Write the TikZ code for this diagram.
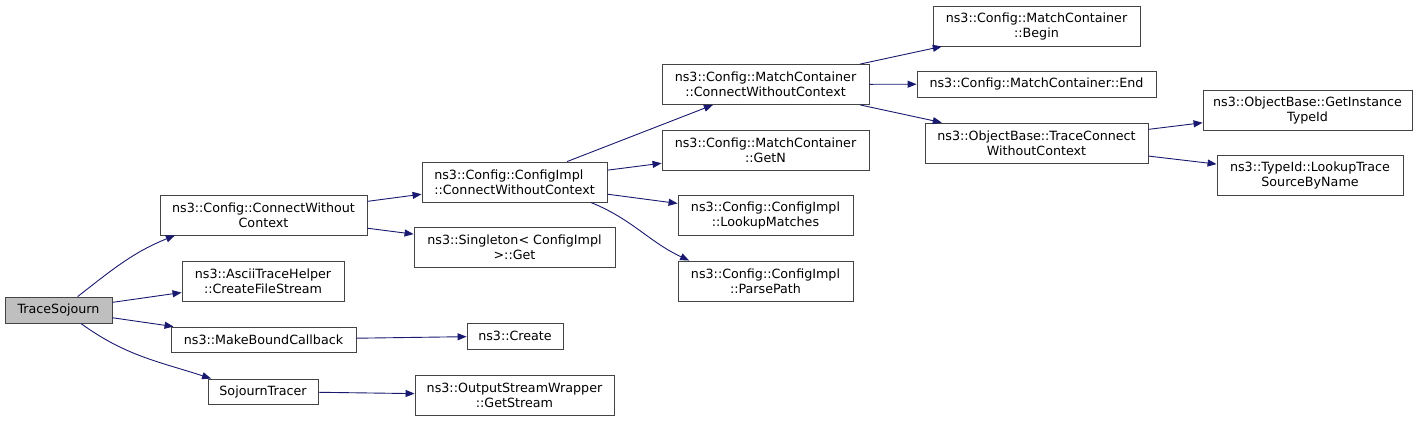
\documentclass[tikz,border=0pt]{standalone}
\usepackage{fontspec}
\setmainfont{DejaVu Sans}
\usepackage{xcolor}
\usepackage{tikz}
\usetikzlibrary{arrows.meta}
\definecolor{link}{HTML}{191970}
\definecolor{frame}{HTML}{444444}
\definecolor{root}{HTML}{BFBFBF}

\tikzset{
  fn/.style={draw=frame,line width=0.9pt,fill=white,align=center,inner sep=0pt,
    font=\fontsize{12.7}{15}\selectfont},
  oneline/.style={fn,minimum height=26pt},
  twoline/.style={fn,minimum height=40pt},
  call/.style={draw=link,line width=0.9pt,-{Triangle[length=9pt,width=7pt]}},
}

\begin{document}
\begin{tikzpicture}[x=1pt,y=1pt]
  \useasboundingbox (0,0) rectangle (1423,421);

  % caller
  \node[oneline,fill=root,minimum width=107pt] (ts) at (58.5,111) {TraceSojourn};

  % first level
  \node[twoline,minimum width=207pt] (cwc) at (263.5,206) {ns3::Config::ConnectWithout\\Context};
  \node[twoline,minimum width=162pt] (ascii) at (263,140) {ns3::AsciiTraceHelper\\::CreateFileStream};
  \node[oneline,minimum width=185pt,minimum height=25pt] (mbc) at (263.5,81.5) {ns3::MakeBoundCallback};
  \node[oneline,minimum width=110pt,minimum height=25pt] (sjt) at (263,29.5) {SojournTracer};

  % second level
  \node[twoline,minimum width=185pt,align=left] (cic) at (514.5,239) {ns3::Config::ConfigImpl\\::ConnectWithoutContext};
  \node[twoline,minimum width=201pt] (sgl) at (514.5,174) {ns3::Singleton< ConfigImpl\\>::Get};
  \node[oneline,minimum width=96pt] (create) at (515,85) {ns3::Create};
  \node[twoline,minimum width=199pt] (osw) at (514.5,26) {ns3::OutputStreamWrapper\\::GetStream};

  % third level
  \node[twoline,minimum width=207pt] (mcc) at (765.5,336.5) {ns3::Config::MatchContainer\\::ConnectWithoutContext};
  \node[twoline,minimum width=207pt] (getn) at (765.5,271) {ns3::Config::MatchContainer\\::GetN};
  \node[twoline,minimum width=175pt] (lookup) at (765.5,206) {ns3::Config::ConfigImpl\\::LookupMatches};
  \node[twoline,minimum width=175pt] (parse) at (765.5,140) {ns3::Config::ConfigImpl\\::ParsePath};

  % fourth level
  \node[twoline,minimum width=207pt] (begin) at (1036.5,395) {ns3::Config::MatchContainer\\::Begin};
  \node[oneline,minimum width=239pt] (end) at (1036.5,337) {ns3::Config::MatchContainer::End};
  \node[twoline,minimum width=223pt] (tcwc) at (1036.5,278) {ns3::ObjectBase::TraceConnect\\WithoutContext};

  % fifth level
  \node[twoline,minimum width=209pt] (gitid) at (1307.5,311) {ns3::ObjectBase::GetInstance\\TypeId};
  \node[twoline,minimum width=186pt] (ltsbn) at (1310,246) {ns3::TypeId::LookupTrace\\SourceByName};

  % calls
  \draw[call] (ts.35) to[out=38,in=202] (cwc.193);
  \draw[call] (ts) -- (ascii);
  \draw[call] (ts) -- (mbc);
  \draw[call] (ts.-31) to[out=-36,in=162] (sjt.166);
  \draw[call] (cwc) -- (cic);
  \draw[call] (cwc) -- (sgl);
  \draw[call] (mbc) -- (create);
  \draw[call] (sjt) -- (osw);
  \draw[call] (cic) -- (mcc);
  \draw[call] (cic) -- (getn);
  \draw[call] (cic) -- (lookup);
  \draw[call] (cic.-15) to[out=-22,in=155] (parse.165);
  \draw[call] (mcc) -- (begin);
  \draw[call] (mcc) -- (end);
  \draw[call] (mcc) -- (tcwc);
  \draw[call] (tcwc) -- (gitid);
  \draw[call] (tcwc) -- (ltsbn);
\end{tikzpicture}
\end{document}
